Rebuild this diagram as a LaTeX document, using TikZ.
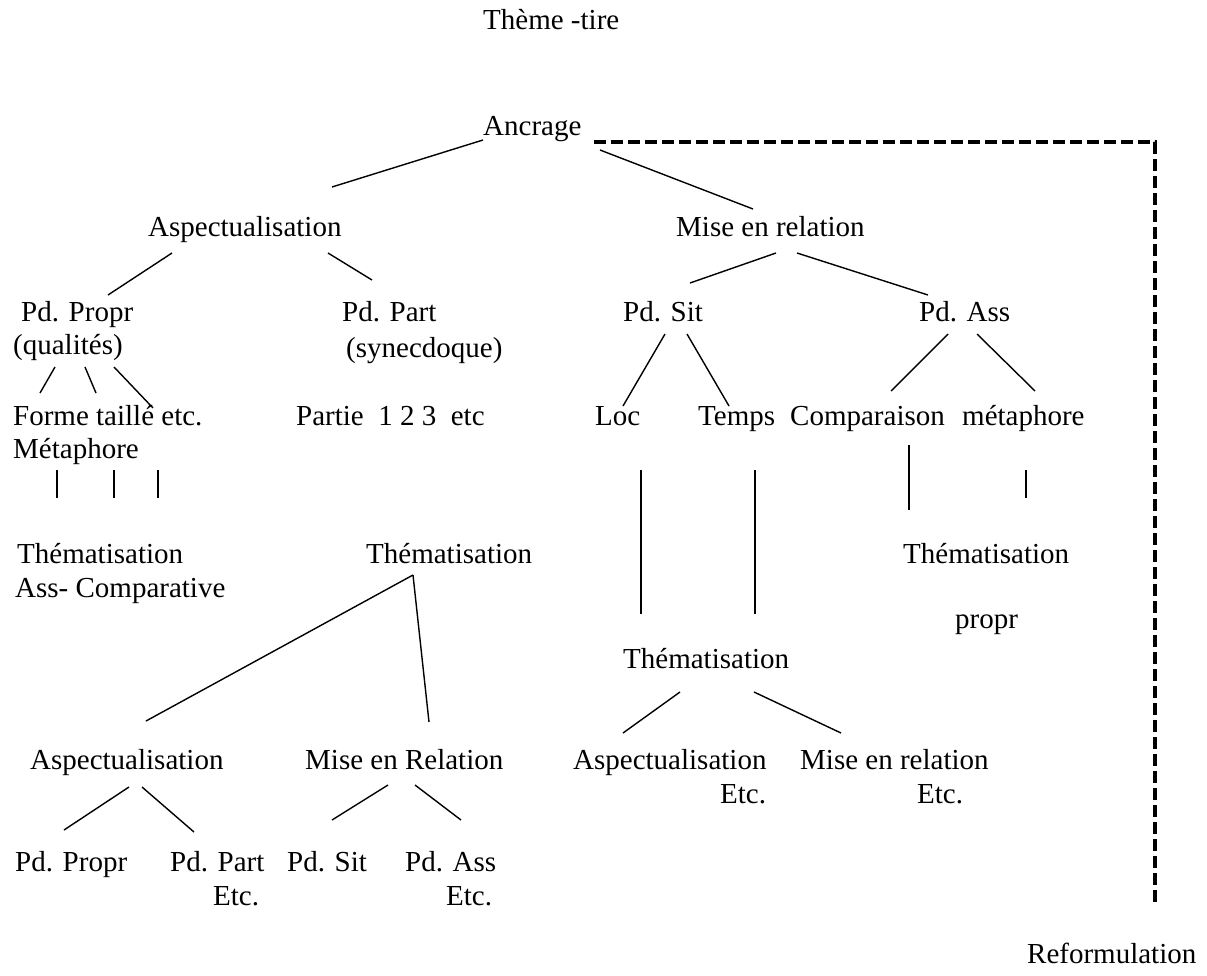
\documentclass[tikz,border=0pt]{standalone}
\usepackage{fontspec}
\setmainfont{Liberation Serif}
\newfontfamily\treefont{Liberation Serif}
\begin{document}
\begin{tikzpicture}[x=1pt,y=-1pt,
  lbl/.style={inner sep=0pt, font=\treefont\fontsize{29}{33}\selectfont, anchor=base west},
  link/.style={line width=1.4pt},
  reform/.style={line width=4pt, dash pattern=on 12pt off 5pt}]
\useasboundingbox[fill=white] (0,0) rectangle (1207,975);

% top level
\node[lbl] (titre) at (483,29) {Thème -tire};
\node[lbl] (anc) at (483,135) {Ancrage};

% first split
\node[lbl] (asp) at (148,236) {Aspectualisation};
\node[lbl] (mer) at (676,236) {Mise en relation};
\draw[link] (483,140) -- (332,187);
\draw[link] (600,150) -- (753,209);

% left branch: aspectualisation
\node[lbl] (propr) at (21,321) {Pd. Propr};
\node[lbl] (qual) at (13,354) {(qualités)};
\node[lbl] (part) at (342,321) {Pd. Part};
\node[lbl] (syn) at (346,357) {(synecdoque)};
\draw[link] (172,253) -- (108,295);
\draw[link] (328,253) -- (372,280);

\node[lbl] (forme) at (13,425) {Forme taillé etc.};
\node[lbl] (meta) at (13,458) {Métaphore};
\draw[link] (55,367) -- (40,393);
\draw[link] (85,367) -- (96,393);
\draw[link] (114,367) -- (153,408);
\node[lbl] (partie) at (296,425) {Partie~~1 2 3~~etc};

\draw[link] (57,470) -- (57,498);
\draw[link] (114,470) -- (114,498);
\draw[link] (158,470) -- (158,498);

\node[lbl] (thA) at (17,563) {Thématisation};
\node[lbl] (assc) at (15,597) {Ass- Comparative};
\node[lbl] (thB) at (366,563) {Thématisation};

% sub-tree under the middle thematisation
\coordinate (apex) at (413,575);
\draw[link] (apex) -- (146,721);
\draw[link] (apex) -- (429,722);
\node[lbl] (asp2) at (30,769) {Aspectualisation};
\node[lbl] (mer2) at (305,769) {Mise en Relation};
\draw[link] (129,787) -- (64,830);
\draw[link] (142,787) -- (194,832);
\draw[link] (388,785) -- (332,820);
\draw[link] (415,785) -- (461,820);
\node[lbl] (propr2) at (15,871) {Pd. Propr};
\node[lbl] (part2) at (170,871) {Pd. Part};
\node[lbl] (etc1) at (213,905) {Etc.};
\node[lbl] (sit2) at (287,871) {Pd. Sit};
\node[lbl] (ass2) at (405,871) {Pd. Ass};
\node[lbl] (etc2) at (446,905) {Etc.};

% right branch: mise en relation
\node[lbl] (sit) at (623,321) {Pd. Sit};
\node[lbl] (ass) at (919,321) {Pd. Ass};
\draw[link] (776,253) -- (690,283);
\draw[link] (797,253) -- (928,295);

\node[lbl] (loc) at (595,425) {Loc};
\node[lbl] (temps) at (698,425) {Temps};
\node[lbl] (comp) at (790,425) {Comparaison};
\node[lbl] (metb) at (962,425) {métaphore};
\draw[link] (665,334) -- (623,406);
\draw[link] (687,334) -- (729,406);
\draw[link] (948,334) -- (891,391);
\draw[link] (977,334) -- (1035,391);

\draw[link] (641,470) -- (641,614);
\draw[link] (755,470) -- (755,614);
\draw[link] (909,445) -- (909,510);
\draw[link] (1026,470) -- (1026,498);

\node[lbl] (thC) at (903,563) {Thématisation};
\node[lbl] (propr3) at (955,628) {propr};
\node[lbl] (thD) at (623,668) {Thématisation};
\draw[link] (680,692) -- (623,733);
\draw[link] (754,692) -- (841,733);
\node[lbl] (asp3) at (573,769) {Aspectualisation};
\node[lbl] (etc3) at (720,803) {Etc.};
\node[lbl] (mer3) at (800,769) {Mise en relation};
\node[lbl] (etc4) at (917,803) {Etc.};

% reformulation loop
\node[lbl] (refo) at (1027,963) {Reformulation};
\coordinate (corner) at (1155,142);
\draw[reform] (594,142) -- (corner) -- (1155,904);
\end{tikzpicture}
\end{document}
